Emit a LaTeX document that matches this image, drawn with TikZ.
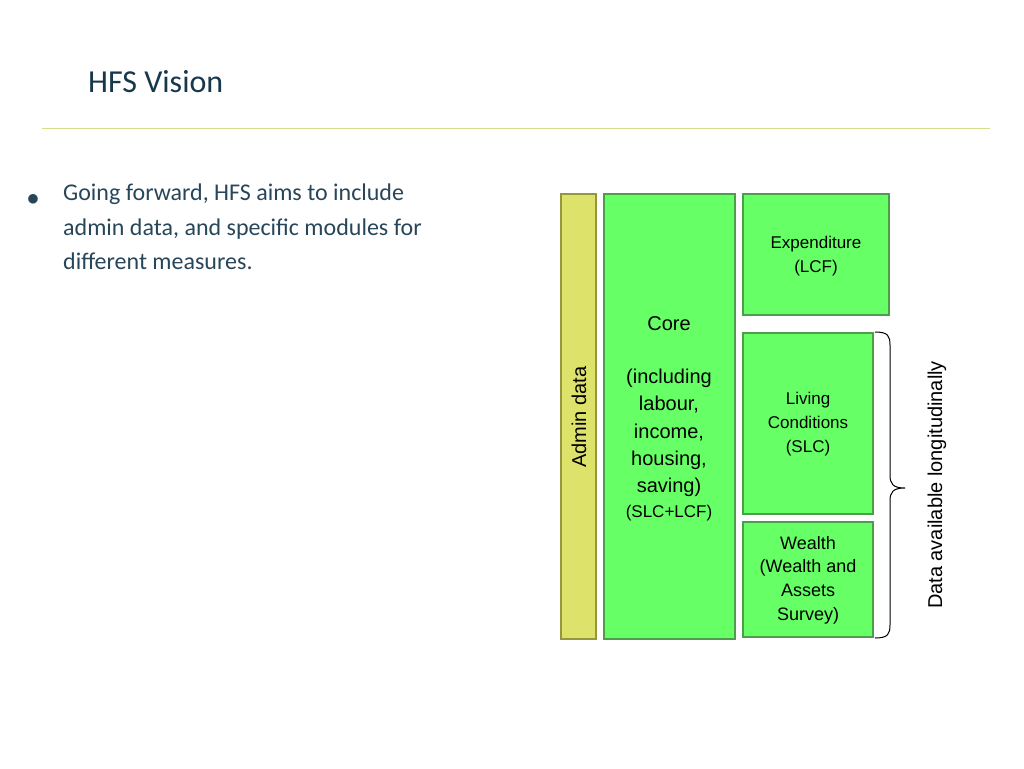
\documentclass[tikz,border=0pt]{standalone}
\usepackage{fontspec}
\setmainfont{Liberation Sans}
\newfontfamily\calib{Carlito}
\begin{document}
\begin{tikzpicture}[x=1pt,y=-1pt,
  gbox/.style={draw=green!45!black!70,line width=1.2pt,fill={rgb,255:red,102;green,255;blue,102},inner sep=0pt},
  lbl/.style={align=center,font=\fontsize{17}{24}\selectfont,inner sep=0pt}]
\useasboundingbox (0,0) rectangle (1024,768);
\definecolor{ttl}{RGB}{23,55,75}
\definecolor{body}{RGB}{40,70,90}
\node[anchor=west,text=ttl,font=\calib\fontsize{32}{36}\selectfont,inner sep=0pt] (title) at (88,82) {HFS Vision};
\draw[color={rgb,255:red,214;green,222;blue,140},line width=1pt] (42,128) coordinate (l1) -- (990,128) coordinate (l2);
\node[text=body,font=\fontsize{24}{24}\selectfont,inner sep=0pt] (bul) at (33,200) {$\bullet$};
\node[anchor=north west,text=body,align=left,font=\calib\fontsize{24}{34.5}\selectfont,inner sep=0pt] (txt) at (63,184) {Going forward, HFS aims to include\\admin data, and specific modules for\\different measures.};
\path[draw={rgb,255:red,150;green,150;blue,60},line width=1.2pt,fill={rgb,255:red,221;green,227;blue,106}] (561,194) rectangle (596,639);
\node[rotate=90,font=\fontsize{20}{24}\selectfont,inner sep=0pt] (admin) at (579,417) {Admin data};
\path[gbox] (604,194) rectangle (735,639);
\node[font=\fontsize{20}{24}\selectfont,inner sep=0pt] (core) at (669,324) {Core};
\node[align=center,font=\fontsize{20}{27.3}\selectfont,inner sep=0pt] (incl) at (669,433) {(including\\labour,\\income,\\housing,\\saving)};
\node[lbl] (slclcf) at (669,513) {(SLC+LCF)};
\path[gbox] (743,194) rectangle (889,315);
\node[lbl] (exp) at (816,256) {Expenditure\\(LCF)};
\path[gbox] (743,333) rectangle (873,514);
\node[lbl] (liv) at (808,424) {Living\\Conditions\\(SLC)};
\path[gbox] (743,522) rectangle (873,637);
\node[align=center,font=\fontsize{18}{23.7}\selectfont,inner sep=0pt] (wea) at (808,580) {Wealth\\(Wealth and\\Assets\\Survey)};
\coordinate (bt) at (875,332); \coordinate (bb) at (875,638); \coordinate (tip) at (905,488);
\draw[line width=1pt] (bt) .. controls (888,332) and (890,336) .. (890,345) -- (890,475) .. controls (890,484) and (893,488) .. (tip)
  .. controls (893,488) and (890,492) .. (890,501) -- (890,625) .. controls (890,634) and (888,638) .. (bb);
\node[rotate=90,font=\fontsize{20}{24}\selectfont,inner sep=0pt] (dal) at (937,485) {Data available longitudinally};
\end{tikzpicture}
\end{document}
